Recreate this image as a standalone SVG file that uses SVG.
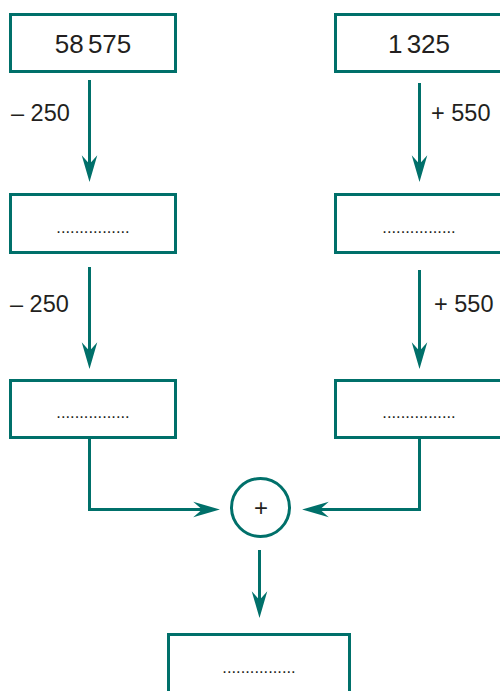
<svg xmlns="http://www.w3.org/2000/svg" width="500" height="691" viewBox="0 0 500 691">
<defs>
<style>
.box{fill:#fff;stroke:#00706a;stroke-width:3}
.ln{fill:none;stroke:#00706a;stroke-width:3}
.num{font-family:"Liberation Sans",Arial,sans-serif;font-size:26px;fill:#231f20;text-anchor:middle}
.lab{font-family:"Liberation Sans",Arial,sans-serif;font-size:23.5px;fill:#231f20}
.dots{font-family:"Liberation Sans",Arial,sans-serif;font-size:16.5px;fill:#231f20;text-anchor:middle}
</style>
<marker id="ah" markerUnits="userSpaceOnUse" markerWidth="30" markerHeight="20" viewBox="-25 -8 27 16" refX="-8" refY="0" orient="auto">
<path d="M0,0 L-24,-7 L-16,0 L-24,7 Z" fill="#00706a"/>
</marker>
</defs>
<rect width="500" height="691" fill="#fff"/>
<g id="connectors">
<line class="ln" x1="89.5" y1="80" x2="89.5" y2="173" marker-end="url(#ah)"/>
<line class="ln" x1="419.5" y1="83" x2="419.5" y2="173" marker-end="url(#ah)"/>
<line class="ln" x1="89.5" y1="267" x2="89.5" y2="360" marker-end="url(#ah)"/>
<line class="ln" x1="419.5" y1="270" x2="419.5" y2="360" marker-end="url(#ah)"/>
<polyline class="ln" points="89.5,438 89.5,509.5 211,509.5" marker-end="url(#ah)"/>
<polyline class="ln" points="419.5,438 419.5,509.5 311,509.5" marker-end="url(#ah)"/>
<line class="ln" x1="259.5" y1="550" x2="259.5" y2="609" marker-end="url(#ah)"/>
<text class="lab" x="11" y="121">– 250</text>
<text class="lab" x="431" y="121">+ 550</text>
<text class="lab" x="10" y="312">– 250</text>
<text class="lab" x="434" y="312">+ 550</text>
</g>
<g id="n1"><rect class="box" x="10.5" y="14.5" width="165" height="57"/><text class="num" x="93" y="53" word-spacing="-3">58 575</text></g>
<g id="n2"><rect class="box" x="335.5" y="14.5" width="175" height="57"/><text class="num" x="419" y="53" word-spacing="-3">1 325</text></g>
<g id="n3"><rect class="box" x="10.5" y="194.5" width="165" height="58"/><text class="dots" x="93" y="233">................</text></g>
<g id="n4"><rect class="box" x="335.5" y="194.5" width="175" height="58"/><text class="dots" x="419" y="233">................</text></g>
<g id="n5"><rect class="box" x="10.5" y="380.5" width="165" height="57"/><text class="dots" x="93" y="418">................</text></g>
<g id="n6"><rect class="box" x="335.5" y="380.5" width="175" height="57"/><text class="dots" x="419" y="418">................</text></g>
<g id="plus"><circle class="box" cx="260.5" cy="507.5" r="29"/><text class="num" x="261" y="516" style="font-size:24px">+</text></g>
<g id="n7"><rect class="box" x="168.5" y="634.5" width="181" height="70"/><text class="dots" x="259" y="673">................</text></g>
</svg>
